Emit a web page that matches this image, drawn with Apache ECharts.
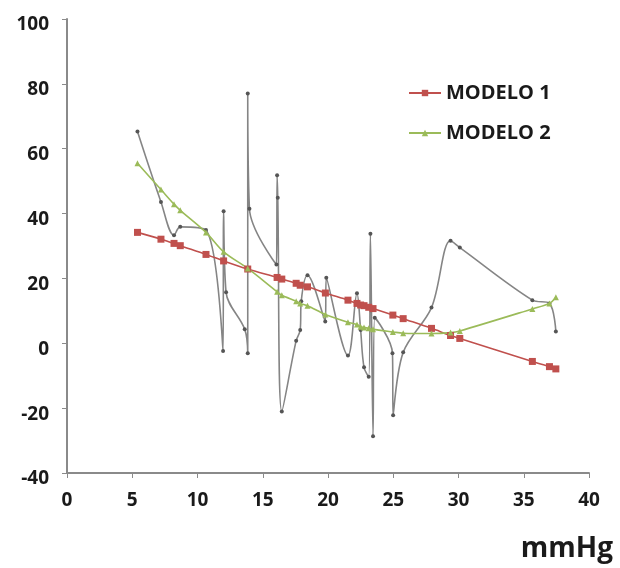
<!DOCTYPE html>
<html>
<head>
<meta charset="utf-8">
<script src="https://cdn.jsdelivr.net/npm/echarts@6/dist/echarts.min.js"></script>
<style>
  html, body { margin: 0; padding: 0; background: #fff; }
  #chart { width: 620px; height: 568px; }
</style>
</head>
<body>
<div id="chart"></div>
<script>
// measured data (gray line), in drawing order
const obsX = [5.4, 7.2, 8.2, 8.68, 10.65, 11.96, 12.0, 12.19, 13.62, 13.85, 13.85, 13.98,
  16.05, 16.1, 16.15, 16.46, 17.56, 17.87, 17.95, 18.43, 19.79, 19.87, 21.53, 22.22,
  22.5, 22.76, 23.12, 23.25, 23.45, 23.58, 24.94, 24.99, 25.76, 27.93, 29.39, 30.1,
  35.66, 36.97, 37.46]
const obsY = [65.3, 43.6, 33.3, 35.9, 34.9, -2.4, 40.7, 15.7, 4.3, -3.1, 77, 41.5,
  24.3, 51.8, 44.9, -21, 0.8, 4.1, 13, 21, 6.7, 20.2, -3.8, 15.4,
  4.1, -7.4, -10.3, 33.8, -28.7, 7.9, -3.1, -22.2, -2.8, 11, 31.6, 29.5,
  13.3, 12.3, 3.6]

// model predictions
const modelX = [5.4, 7.2, 8.2, 8.68, 10.65, 12.0, 13.85, 16.1, 16.46, 17.56, 17.87, 18.43,
  19.8, 21.53, 22.22, 22.5, 22.76, 23.12, 23.45, 24.97, 25.76, 27.93, 29.39, 30.1,
  35.66, 36.97, 37.46]
const modelo1 = [34.2, 32.1, 30.8, 30.1, 27.4, 25.4, 22.9, 20.3, 19.8, 18.5, 17.9, 17.4,
  15.5, 13.3, 12.3, 11.8, 11.6, 11.1, 10.7, 8.7, 7.6, 4.6, 2.4, 1.5,
  -5.6, -7.2, -7.9]
const modelo2 = [55.5, 47.4, 42.9, 41.0, 34.2, 28.2, 23.1, 15.9, 14.8, 13.0, 12.3, 11.6,
  8.9, 6.5, 5.8, 5.1, 4.9, 4.6, 4.3, 3.5, 3.1, 3.0, 3.3, 3.8,
  10.6, 12.3, 14.2]

const zip = (xs, ys) => xs.map((x, i) => [x, ys[i]])

const FONT = '"Open Sans", "Noto Sans", sans-serif'
const axisText = { color: '#1a1a1a', fontSize: 19, fontWeight: 'bold', fontFamily: FONT }

const chart = echarts.init(document.getElementById('chart'))

chart.setOption({
  animation: false,
  backgroundColor: '#fff',
  title: {
    text: 'mmHg',
    right: 2,
    bottom: 0,
    textStyle: { color: '#1a1a1a', fontSize: 28, fontWeight: 'bold', fontFamily: FONT }
  },
  legend: {
    data: ['MODELO 1', 'MODELO 2'],
    orient: 'vertical',
    left: 403,
    top: 78,
    itemWidth: 32,
    itemHeight: 8,
    itemGap: 20,
    textStyle: { color: '#1a1a1a', fontSize: 20, fontWeight: 'bold', fontFamily: FONT }
  },
  grid: { left: 67, right: 31, top: 19, bottom: 95 },
  xAxis: {
    type: 'value',
    min: 0,
    max: 40,
    interval: 5,
    splitLine: { show: false },
    axisLine: { onZero: false, lineStyle: { color: '#8a8a8a', width: 2 } },
    axisTick: { show: true, length: 5, lineStyle: { color: '#8a8a8a' } },
    axisLabel: Object.assign({ margin: 18 }, axisText)
  },
  yAxis: {
    type: 'value',
    min: -40,
    max: 100,
    interval: 20,
    splitLine: { show: false },
    axisLine: { show: true, onZero: false, lineStyle: { color: '#8a8a8a', width: 2 } },
    axisTick: { show: true, length: 5, lineStyle: { color: '#8a8a8a' } },
    axisLabel: Object.assign({
      margin: 18,
      formatter: '{v|{value}}',
      rich: { v: Object.assign({ padding: [12, 0, 0, 0] }, axisText) }
    }, axisText)
  },
  series: [
    {
      name: 'obs',
      type: 'line',
      data: zip(obsX, obsY),
      smooth: 0.35,
      symbol: 'circle',
      symbolSize: 4,
      lineStyle: { color: '#858585', width: 1.6 },
      itemStyle: { color: '#555' },
      z: 2
    },
    {
      name: 'MODELO 1',
      type: 'line',
      data: zip(modelX, modelo1),
      smooth: 0.3,
      symbol: 'rect',
      symbolSize: 7,
      lineStyle: { color: '#c0504d', width: 1.6 },
      itemStyle: { color: '#c0504d' },
      z: 3
    },
    {
      name: 'MODELO 2',
      type: 'line',
      data: zip(modelX, modelo2),
      smooth: 0.3,
      symbol: 'triangle',
      symbolSize: 6,
      lineStyle: { color: '#9bbb59', width: 1.6 },
      itemStyle: { color: '#9bbb59' },
      z: 3
    }
  ]
})

window.addEventListener('resize', () => chart.resize())
</script>
</body>
</html>
